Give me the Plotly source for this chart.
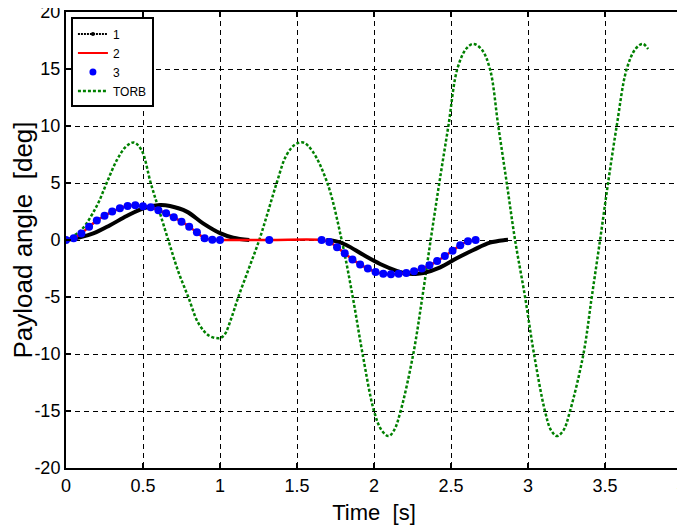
import plotly.graph_objects as go

# ---- data ----
torb_t = [0, 0.1, 0.2, 0.264, 0.33, 0.39, 0.44, 0.49, 0.55, 0.6, 0.664, 0.73, 0.794, 0.86, 0.93, 1.0,
          1.03, 1.07, 1.119, 1.19, 1.255, 1.31, 1.368, 1.43, 1.49, 1.541, 1.6, 1.697, 1.79, 1.862, 1.926,
          2.0, 2.05, 2.095, 2.13, 2.173, 2.255, 2.314, 2.368, 2.424, 2.483, 2.541, 2.6, 2.645, 2.7,
          2.753, 2.807, 2.862, 2.916, 2.981, 3.039, 3.11, 3.15, 3.188, 3.23, 3.273, 3.36, 3.414,
          3.468, 3.52, 3.576, 3.641, 3.7, 3.745, 3.78]
torb_y = [0, 0.9, 3.0, 5, 7.0, 8.2, 8.55, 7.9, 5.0, 2.8, 0, -2.8, -5, -7.3, -8.4, -8.6,
          -8.3, -7.0, -5, -2.4, 0, 2.4, 5, 7.4, 8.4, 8.55, 7.8, 5, 0, -5, -10,
          -15, -16.7, -17.2, -16.7, -15, -10, -5, 0, 5, 10, 15, 16.8, 17.2, 16.7,
          15, 10, 5, 0, -5, -10, -15, -16.7, -17.2, -16.7, -15, -10, -5,
          0, 5, 10, 15, 16.8, 17.2, 16.75]

s1_t = [0, 0.09, 0.177, 0.286, 0.394, 0.502, 0.61, 0.675, 0.784, 0.89, 1.0, 1.086, 1.19, None,
        1.69, 1.75, 1.82, 1.93, 2.04, 2.147, 2.212, 2.27, 2.32, 2.43, 2.537, 2.645, 2.753, 2.85, 2.87]
s1_y = [0, 0.23, 0.58, 1.3, 2.1, 2.78, 3.07, 2.98, 2.49, 1.46, 0.6, 0.2, 0.0, None,
        0, -0.1, -0.44, -1.3, -2.1, -2.7, -2.95, -2.98, -2.9, -2.4, -1.6, -0.88, -0.23, 0.0, 0.02]

s3_t = [0, 0.05, 0.1, 0.15, 0.2, 0.25, 0.3, 0.35, 0.4, 0.45, 0.5, 0.55, 0.6, 0.65, 0.7, 0.75,
        0.8, 0.85, 0.9, 0.95, 1.0, 1.32,
        1.66, 1.71, 1.76, 1.81, 1.86, 1.91, 1.96, 2.01, 2.06, 2.11, 2.16, 2.21, 2.26, 2.31,
        2.36, 2.41, 2.46, 2.51, 2.56, 2.61, 2.66]
s3_y = [0, 0.15, 0.58, 1.17, 1.7, 2.13, 2.49, 2.78, 2.98, 3.04, 2.95, 2.87, 2.6, 2.34, 1.99, 1.61,
        1.17, 0.67, 0.15, 0.02, 0, 0,
        0, -0.17, -0.64, -1.17, -1.7, -2.14, -2.51, -2.8, -2.95, -3.0, -2.97, -2.9, -2.75, -2.5,
        -2.22, -1.85, -1.4, -0.95, -0.45, -0.12, 0]

x_ticks = [0, 0.5, 1, 1.5, 2, 2.5, 3, 3.5, 4]
x_labels = ["0", "0.5", "1", "1.5", "2", "2.5", "3", "3.5", "4"]
y_ticks = [-20, -15, -10, -5, 0, 5, 10, 15, 20]
y_labels = ["-20", "-15", "-10", "-5", "0", "5", "10", "15", "20"]

FONT = "Liberation Sans, Arial"

fig = go.Figure()

fig.add_trace(go.Scatter(x=torb_t, y=torb_y, mode="lines", line_shape="spline",
                         line=dict(color="#008000", width=2.5, dash="3px,2px"),
                         showlegend=False))
fig.add_trace(go.Scatter(x=s1_t, y=s1_y, mode="lines", line_shape="spline",
                         line=dict(color="black", width=4), showlegend=False))
fig.add_trace(go.Scatter(x=s3_t, y=s3_y, mode="lines", line_shape="spline",
                         line=dict(color="red", width=2.5), showlegend=False))
fig.add_trace(go.Scatter(x=s3_t, y=s3_y, mode="markers",
                         marker=dict(color="blue", size=8), showlegend=False))

# legend entries
fig.add_trace(go.Scatter(x=[None], y=[None], mode="lines+markers", name="1",
                         line=dict(color="black", width=2, dash="2px,1px"),
                         marker=dict(color="black", size=4)))
fig.add_trace(go.Scatter(x=[None], y=[None], mode="lines", name="2",
                         line=dict(color="red", width=2)))
fig.add_trace(go.Scatter(x=[None], y=[None], mode="markers", name="3",
                         marker=dict(color="blue", size=7)))
fig.add_trace(go.Scatter(x=[None], y=[None], mode="lines", name="TORB",
                         line=dict(color="#008000", width=2.5, dash="3px,2px")))

axis_common = dict(showline=True, linecolor="black", linewidth=2, mirror="ticks",
                   ticks="inside", ticklen=5, tickwidth=1.5, tickcolor="black",
                   showgrid=True, gridcolor="black", gridwidth=1, griddash="5px,4px",
                   zeroline=False, automargin=False, ticklabeloverflow="allow",
                   tickfont=dict(family=FONT, size=18, color="black"))

fig.update_xaxes(range=[0, 4], tickvals=x_ticks, ticktext=x_labels,
                 title=dict(text="Time  [s]", font=dict(family=FONT, size=22, color="black"), standoff=10),
                 **axis_common)
fig.update_yaxes(range=[-20, 20], tickvals=y_ticks, ticktext=y_labels,
                 title=dict(text="Payload angle  [deg]", font=dict(family=FONT, size=26, color="black"), standoff=2),
                 **axis_common)

fig.update_layout(
    width=677, height=521,
    margin=dict(l=58, r=3, t=4, b=61),
    paper_bgcolor="white", plot_bgcolor="white",
    legend=dict(x=0.008, y=0.988, xanchor="left", yanchor="top",
                bgcolor="white", bordercolor="black", borderwidth=2,
                font=dict(family=FONT, size=12, color="black"),
                tracegroupgap=0, itemwidth=30),
)

fig.write_html("out.html")
